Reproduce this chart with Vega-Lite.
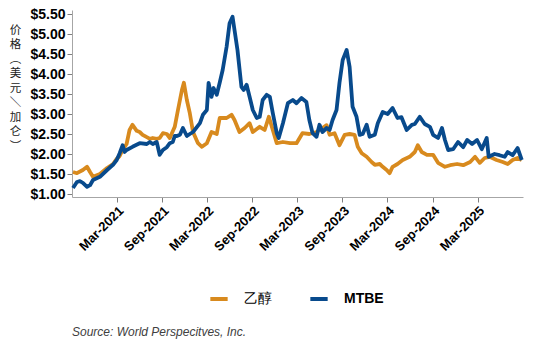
{
  "$schema": "https://vega.github.io/schema/vega-lite/v6.json",
  "width": 451,
  "height": 187,
  "autosize": "none",
  "padding": {"left": 72, "top": 10, "right": 11, "bottom": 143},
  "background": "white",
  "config": {
    "font": "Liberation Sans",
    "view": {"stroke": null},
    "axis": {"grid": false, "domainColor": "#a6a6a6", "tickColor": "#7f7f7f", "labelColor": "#000", "labelFont": "Liberation Sans", "labelFontWeight": "bold"}
  },
  "title": {
    "text": "Source: World Perspecitves, Inc.",
    "orient": "bottom",
    "anchor": "start",
    "frame": "group",
    "font": "Liberation Sans",
    "fontSize": 12,
    "fontStyle": "italic",
    "fontWeight": "normal",
    "color": "#404040",
    "offset": 20
  },
  "data": {
    "values": [
      {"d": "2020-09-05", "s": "乙醇", "p": 1.55},
      {"d": "2020-09-21", "s": "乙醇", "p": 1.52},
      {"d": "2020-10-15", "s": "乙醇", "p": 1.6},
      {"d": "2020-11-01", "s": "乙醇", "p": 1.68},
      {"d": "2020-11-13", "s": "乙醇", "p": 1.55},
      {"d": "2020-11-25", "s": "乙醇", "p": 1.43},
      {"d": "2020-12-23", "s": "乙醇", "p": 1.5},
      {"d": "2021-01-21", "s": "乙醇", "p": 1.65},
      {"d": "2021-02-14", "s": "乙醇", "p": 1.75},
      {"d": "2021-03-01", "s": "乙醇", "p": 1.88},
      {"d": "2021-03-13", "s": "乙醇", "p": 1.95},
      {"d": "2021-03-25", "s": "乙醇", "p": 2.1},
      {"d": "2021-04-10", "s": "乙醇", "p": 2.25},
      {"d": "2021-04-22", "s": "乙醇", "p": 2.6},
      {"d": "2021-05-04", "s": "乙醇", "p": 2.73},
      {"d": "2021-05-21", "s": "乙醇", "p": 2.58},
      {"d": "2021-06-02", "s": "乙醇", "p": 2.55},
      {"d": "2021-06-14", "s": "乙醇", "p": 2.48},
      {"d": "2021-07-01", "s": "乙醇", "p": 2.42},
      {"d": "2021-07-13", "s": "乙醇", "p": 2.38},
      {"d": "2021-07-25", "s": "乙醇", "p": 2.4},
      {"d": "2021-08-10", "s": "乙醇", "p": 2.38},
      {"d": "2021-08-22", "s": "乙醇", "p": 2.4},
      {"d": "2021-09-04", "s": "乙醇", "p": 2.52},
      {"d": "2021-09-20", "s": "乙醇", "p": 2.5},
      {"d": "2021-10-02", "s": "乙醇", "p": 2.4},
      {"d": "2021-10-22", "s": "乙醇", "p": 2.68},
      {"d": "2021-11-04", "s": "乙醇", "p": 3.1},
      {"d": "2021-11-20", "s": "乙醇", "p": 3.6},
      {"d": "2021-11-28", "s": "乙醇", "p": 3.78},
      {"d": "2021-12-10", "s": "乙醇", "p": 3.35},
      {"d": "2021-12-22", "s": "乙醇", "p": 3.02},
      {"d": "2022-01-04", "s": "乙醇", "p": 2.55},
      {"d": "2022-01-24", "s": "乙醇", "p": 2.27},
      {"d": "2022-02-09", "s": "乙醇", "p": 2.18},
      {"d": "2022-03-01", "s": "乙醇", "p": 2.27},
      {"d": "2022-03-20", "s": "乙醇", "p": 2.55},
      {"d": "2022-04-10", "s": "乙醇", "p": 2.5},
      {"d": "2022-04-22", "s": "乙醇", "p": 2.9},
      {"d": "2022-05-20", "s": "乙醇", "p": 2.9},
      {"d": "2022-06-09", "s": "乙醇", "p": 2.98},
      {"d": "2022-06-21", "s": "乙醇", "p": 2.85},
      {"d": "2022-07-11", "s": "乙醇", "p": 2.55},
      {"d": "2022-08-01", "s": "乙醇", "p": 2.65},
      {"d": "2022-08-21", "s": "乙醇", "p": 2.77},
      {"d": "2022-09-03", "s": "乙醇", "p": 2.55},
      {"d": "2022-10-01", "s": "乙醇", "p": 2.68},
      {"d": "2022-10-21", "s": "乙醇", "p": 2.6},
      {"d": "2022-11-07", "s": "乙醇", "p": 2.93},
      {"d": "2022-11-23", "s": "乙醇", "p": 2.6},
      {"d": "2022-12-09", "s": "乙醇", "p": 2.27},
      {"d": "2023-01-03", "s": "乙醇", "p": 2.3},
      {"d": "2023-02-01", "s": "乙醇", "p": 2.27},
      {"d": "2023-02-27", "s": "乙醇", "p": 2.27},
      {"d": "2023-03-23", "s": "乙醇", "p": 2.52},
      {"d": "2023-04-20", "s": "乙醇", "p": 2.5},
      {"d": "2023-05-19", "s": "乙醇", "p": 2.55},
      {"d": "2023-06-12", "s": "乙醇", "p": 2.65},
      {"d": "2023-06-29", "s": "乙醇", "p": 2.72},
      {"d": "2023-07-11", "s": "乙醇", "p": 2.48},
      {"d": "2023-07-31", "s": "乙醇", "p": 2.52},
      {"d": "2023-08-20", "s": "乙醇", "p": 2.22},
      {"d": "2023-09-10", "s": "乙醇", "p": 2.48},
      {"d": "2023-09-30", "s": "乙醇", "p": 2.5},
      {"d": "2023-10-20", "s": "乙醇", "p": 2.48},
      {"d": "2023-11-02", "s": "乙醇", "p": 2.18},
      {"d": "2023-11-18", "s": "乙醇", "p": 2.02},
      {"d": "2023-12-08", "s": "乙醇", "p": 1.93},
      {"d": "2023-12-28", "s": "乙醇", "p": 1.8},
      {"d": "2024-01-10", "s": "乙醇", "p": 1.73},
      {"d": "2024-01-30", "s": "乙醇", "p": 1.75},
      {"d": "2024-02-11", "s": "乙醇", "p": 1.68},
      {"d": "2024-02-27", "s": "乙醇", "p": 1.6},
      {"d": "2024-03-10", "s": "乙醇", "p": 1.52},
      {"d": "2024-03-22", "s": "乙醇", "p": 1.68},
      {"d": "2024-04-11", "s": "乙醇", "p": 1.75},
      {"d": "2024-05-02", "s": "乙醇", "p": 1.85},
      {"d": "2024-05-30", "s": "乙醇", "p": 1.93},
      {"d": "2024-06-20", "s": "乙醇", "p": 2.05},
      {"d": "2024-07-02", "s": "乙醇", "p": 2.22},
      {"d": "2024-07-18", "s": "乙醇", "p": 2.05},
      {"d": "2024-08-08", "s": "乙醇", "p": 1.98},
      {"d": "2024-09-02", "s": "乙醇", "p": 1.98},
      {"d": "2024-09-22", "s": "乙醇", "p": 1.78},
      {"d": "2024-10-20", "s": "乙醇", "p": 1.68},
      {"d": "2024-11-10", "s": "乙醇", "p": 1.72},
      {"d": "2024-12-08", "s": "乙醇", "p": 1.75},
      {"d": "2025-01-02", "s": "乙醇", "p": 1.72},
      {"d": "2025-01-30", "s": "乙醇", "p": 1.8},
      {"d": "2025-02-19", "s": "乙醇", "p": 1.93},
      {"d": "2025-03-10", "s": "乙醇", "p": 1.78},
      {"d": "2025-03-30", "s": "乙醇", "p": 1.9},
      {"d": "2025-04-19", "s": "乙醇", "p": 1.93},
      {"d": "2025-05-17", "s": "乙醇", "p": 1.85},
      {"d": "2025-06-11", "s": "乙醇", "p": 1.8},
      {"d": "2025-07-01", "s": "乙醇", "p": 1.75},
      {"d": "2025-07-21", "s": "乙醇", "p": 1.85},
      {"d": "2025-08-10", "s": "乙醇", "p": 1.9},
      {"d": "2025-08-27", "s": "乙醇", "p": 1.85},
      {"d": "2020-09-05", "s": "MTBE", "p": 1.15},
      {"d": "2020-09-21", "s": "MTBE", "p": 1.3},
      {"d": "2020-10-03", "s": "MTBE", "p": 1.32},
      {"d": "2020-10-15", "s": "MTBE", "p": 1.28},
      {"d": "2020-11-01", "s": "MTBE", "p": 1.18},
      {"d": "2020-11-13", "s": "MTBE", "p": 1.22},
      {"d": "2020-11-25", "s": "MTBE", "p": 1.35},
      {"d": "2020-12-23", "s": "MTBE", "p": 1.43},
      {"d": "2021-01-21", "s": "MTBE", "p": 1.6},
      {"d": "2021-02-14", "s": "MTBE", "p": 1.73},
      {"d": "2021-03-01", "s": "MTBE", "p": 1.85},
      {"d": "2021-03-13", "s": "MTBE", "p": 2.02},
      {"d": "2021-03-25", "s": "MTBE", "p": 2.22},
      {"d": "2021-04-02", "s": "MTBE", "p": 2.05},
      {"d": "2021-04-10", "s": "MTBE", "p": 2.1},
      {"d": "2021-05-04", "s": "MTBE", "p": 2.18},
      {"d": "2021-06-02", "s": "MTBE", "p": 2.27},
      {"d": "2021-07-01", "s": "MTBE", "p": 2.25},
      {"d": "2021-07-13", "s": "MTBE", "p": 2.3},
      {"d": "2021-07-25", "s": "MTBE", "p": 2.25},
      {"d": "2021-08-10", "s": "MTBE", "p": 2.3},
      {"d": "2021-08-22", "s": "MTBE", "p": 1.98},
      {"d": "2021-09-04", "s": "MTBE", "p": 2.1},
      {"d": "2021-09-20", "s": "MTBE", "p": 2.17},
      {"d": "2021-10-02", "s": "MTBE", "p": 2.27},
      {"d": "2021-10-14", "s": "MTBE", "p": 2.3},
      {"d": "2021-10-22", "s": "MTBE", "p": 2.45},
      {"d": "2021-10-31", "s": "MTBE", "p": 2.45},
      {"d": "2021-11-12", "s": "MTBE", "p": 2.48},
      {"d": "2021-11-24", "s": "MTBE", "p": 2.65},
      {"d": "2021-12-10", "s": "MTBE", "p": 2.45},
      {"d": "2021-12-22", "s": "MTBE", "p": 2.5},
      {"d": "2022-01-04", "s": "MTBE", "p": 2.55},
      {"d": "2022-02-01", "s": "MTBE", "p": 2.77},
      {"d": "2022-02-13", "s": "MTBE", "p": 2.98},
      {"d": "2022-03-01", "s": "MTBE", "p": 3.1},
      {"d": "2022-03-08", "s": "MTBE", "p": 3.78},
      {"d": "2022-03-20", "s": "MTBE", "p": 3.43},
      {"d": "2022-03-28", "s": "MTBE", "p": 3.65},
      {"d": "2022-04-10", "s": "MTBE", "p": 3.48},
      {"d": "2022-04-22", "s": "MTBE", "p": 3.78},
      {"d": "2022-05-04", "s": "MTBE", "p": 4.1},
      {"d": "2022-05-20", "s": "MTBE", "p": 4.68},
      {"d": "2022-06-01", "s": "MTBE", "p": 5.27},
      {"d": "2022-06-13", "s": "MTBE", "p": 5.43},
      {"d": "2022-06-21", "s": "MTBE", "p": 5.1},
      {"d": "2022-07-03", "s": "MTBE", "p": 4.6},
      {"d": "2022-07-19", "s": "MTBE", "p": 3.68},
      {"d": "2022-07-28", "s": "MTBE", "p": 3.6},
      {"d": "2022-08-09", "s": "MTBE", "p": 3.73},
      {"d": "2022-08-21", "s": "MTBE", "p": 3.43},
      {"d": "2022-09-03", "s": "MTBE", "p": 3.1},
      {"d": "2022-09-19", "s": "MTBE", "p": 2.9},
      {"d": "2022-10-01", "s": "MTBE", "p": 2.93},
      {"d": "2022-10-13", "s": "MTBE", "p": 3.35},
      {"d": "2022-10-29", "s": "MTBE", "p": 3.48},
      {"d": "2022-11-11", "s": "MTBE", "p": 3.43},
      {"d": "2022-11-23", "s": "MTBE", "p": 3.02},
      {"d": "2022-12-09", "s": "MTBE", "p": 2.52},
      {"d": "2022-12-17", "s": "MTBE", "p": 2.4},
      {"d": "2023-01-03", "s": "MTBE", "p": 2.77},
      {"d": "2023-01-23", "s": "MTBE", "p": 3.27},
      {"d": "2023-02-12", "s": "MTBE", "p": 3.35},
      {"d": "2023-02-27", "s": "MTBE", "p": 3.27},
      {"d": "2023-03-19", "s": "MTBE", "p": 3.4},
      {"d": "2023-04-08", "s": "MTBE", "p": 3.3},
      {"d": "2023-04-20", "s": "MTBE", "p": 2.85},
      {"d": "2023-05-03", "s": "MTBE", "p": 2.52},
      {"d": "2023-05-19", "s": "MTBE", "p": 2.43},
      {"d": "2023-05-31", "s": "MTBE", "p": 2.73},
      {"d": "2023-06-12", "s": "MTBE", "p": 2.55},
      {"d": "2023-06-29", "s": "MTBE", "p": 2.65},
      {"d": "2023-07-11", "s": "MTBE", "p": 2.6},
      {"d": "2023-07-23", "s": "MTBE", "p": 2.85},
      {"d": "2023-08-08", "s": "MTBE", "p": 3.1},
      {"d": "2023-08-20", "s": "MTBE", "p": 3.78},
      {"d": "2023-09-02", "s": "MTBE", "p": 4.35},
      {"d": "2023-09-18", "s": "MTBE", "p": 4.6},
      {"d": "2023-09-30", "s": "MTBE", "p": 4.18},
      {"d": "2023-10-12", "s": "MTBE", "p": 3.18},
      {"d": "2023-10-28", "s": "MTBE", "p": 2.93},
      {"d": "2023-11-10", "s": "MTBE", "p": 2.48},
      {"d": "2023-11-22", "s": "MTBE", "p": 2.5},
      {"d": "2023-12-08", "s": "MTBE", "p": 2.73},
      {"d": "2023-12-20", "s": "MTBE", "p": 2.43},
      {"d": "2024-01-10", "s": "MTBE", "p": 2.48},
      {"d": "2024-01-22", "s": "MTBE", "p": 2.77},
      {"d": "2024-02-11", "s": "MTBE", "p": 3.05},
      {"d": "2024-03-02", "s": "MTBE", "p": 3.0},
      {"d": "2024-03-22", "s": "MTBE", "p": 3.15},
      {"d": "2024-04-11", "s": "MTBE", "p": 2.9},
      {"d": "2024-04-27", "s": "MTBE", "p": 2.92},
      {"d": "2024-05-18", "s": "MTBE", "p": 2.6},
      {"d": "2024-06-08", "s": "MTBE", "p": 2.73},
      {"d": "2024-06-20", "s": "MTBE", "p": 2.75},
      {"d": "2024-07-10", "s": "MTBE", "p": 2.93},
      {"d": "2024-07-30", "s": "MTBE", "p": 2.75},
      {"d": "2024-08-20", "s": "MTBE", "p": 2.68},
      {"d": "2024-09-02", "s": "MTBE", "p": 2.48},
      {"d": "2024-09-22", "s": "MTBE", "p": 2.4},
      {"d": "2024-10-08", "s": "MTBE", "p": 2.65},
      {"d": "2024-10-20", "s": "MTBE", "p": 2.35},
      {"d": "2024-11-02", "s": "MTBE", "p": 2.1},
      {"d": "2024-11-22", "s": "MTBE", "p": 2.12},
      {"d": "2024-12-12", "s": "MTBE", "p": 2.3},
      {"d": "2025-01-02", "s": "MTBE", "p": 2.17},
      {"d": "2025-01-18", "s": "MTBE", "p": 2.35},
      {"d": "2025-02-07", "s": "MTBE", "p": 2.25},
      {"d": "2025-02-27", "s": "MTBE", "p": 2.35},
      {"d": "2025-03-18", "s": "MTBE", "p": 2.12},
      {"d": "2025-04-07", "s": "MTBE", "p": 2.4},
      {"d": "2025-04-15", "s": "MTBE", "p": 1.93},
      {"d": "2025-05-09", "s": "MTBE", "p": 2.0},
      {"d": "2025-05-29", "s": "MTBE", "p": 1.97},
      {"d": "2025-06-19", "s": "MTBE", "p": 1.93},
      {"d": "2025-07-01", "s": "MTBE", "p": 2.05},
      {"d": "2025-07-21", "s": "MTBE", "p": 1.97},
      {"d": "2025-08-10", "s": "MTBE", "p": 2.15},
      {"d": "2025-08-27", "s": "MTBE", "p": 1.85}
    ]
  },
  "mark": {"type": "line", "strokeWidth": 3.8, "strokeJoin": "round", "interpolate": "linear"},
  "encoding": {
    "x": {
      "field": "d",
      "type": "temporal",
      "scale": {"domain": [{"year": 2020, "month": 9, "date": 1}, {"year": 2025, "month": 9, "date": 1}], "nice": false},
      "axis": {
        "title": null,
        "values": [
          {"year": 2021, "month": 3, "date": 1},
          {"year": 2021, "month": 9, "date": 1},
          {"year": 2022, "month": 3, "date": 1},
          {"year": 2022, "month": 9, "date": 1},
          {"year": 2023, "month": 3, "date": 1},
          {"year": 2023, "month": 9, "date": 1},
          {"year": 2024, "month": 3, "date": 1},
          {"year": 2024, "month": 9, "date": 1},
          {"year": 2025, "month": 3, "date": 1}
        ],
        "format": "%b-%Y",
        "labelAngle": -45,
        "labelAlign": "right",
        "labelBaseline": "top",
        "labelFontSize": 13,
        "labelPadding": 2,
        "tickSize": 5,
        "labelOverlap": false
      }
    },
    "y": {
      "field": "p",
      "type": "quantitative",
      "scale": {"domain": [0.925, 5.6], "nice": false, "zero": false},
      "axis": {
        "values": [1, 1.5, 2, 2.5, 3, 3.5, 4, 4.5, 5, 5.5],
        "format": "$.2f",
        "labelFontSize": 14,
        "labelPadding": 2,
        "tickSize": 5,
        "title": ["价", "格", "︵", "美", "元", "＼", "加", "仑", "︶"],
        "titleAngle": 0,
        "titleX": -57,
        "titleY": 14,
        "titleAlign": "center",
        "titleBaseline": "top",
        "titleFont": "Noto Sans CJK SC",
        "titleFontWeight": "normal",
        "titleFontSize": 11.5,
        "titleLineHeight": 14.5,
        "titleColor": "#222"
      }
    },
    "color": {
      "field": "s",
      "type": "nominal",
      "scale": {"domain": ["乙醇", "MTBE"], "range": ["#D88A1E", "#084A8C"]},
      "legend": {
        "title": null,
        "orient": "none",
        "direction": "horizontal",
        "legendX": 136,
        "legendY": 278,
        "symbolType": "stroke",
        "symbolSize": 300,
        "symbolStrokeWidth": 4,
        "labelFontSize": 14,
        "labelFont": "Liberation Sans",
        "labelColor": "#000",
        "labelOffset": 14,
        "columnPadding": 30,
        "padding": 0,
        "encode": {"labels": {"update": {"fontWeight": {"signal": "datum.label === 'MTBE' ? 'bold' : 'normal'"}}}}
      }
    },
    "order": {"field": "d", "type": "temporal"}
  }
}
